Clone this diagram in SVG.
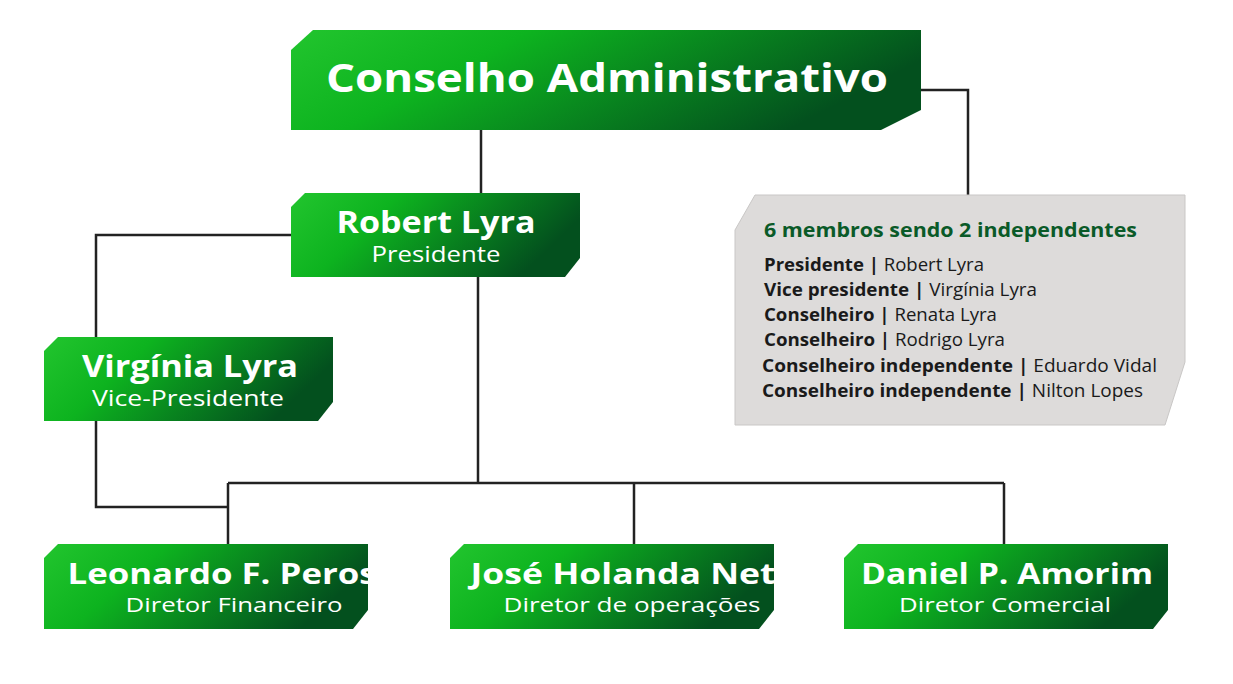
<svg xmlns="http://www.w3.org/2000/svg" width="1233" height="684" viewBox="0 0 1233 684">
<defs>
<linearGradient id="g" x1="0" y1="0" x2="1" y2="0.3">
<stop offset="0" stop-color="#22c52e"/><stop offset="0.35" stop-color="#0db31f"/><stop offset="1" stop-color="#03501e"/>
</linearGradient>
<style>
.c{fill:none;stroke:#222;stroke-width:2.5}
.t{font-family:"Open Sans","Liberation Sans",sans-serif;fill:#fff;text-anchor:middle}
.b{font-weight:bold}
.g{font-family:"Open Sans","Liberation Sans",sans-serif;fill:#1a1a1a;font-size:18px}
</style>
</defs>
<rect width="1233" height="684" fill="#fff"/>
<g id="connectors">
<path class="c" d="M481 130V193M921 90H968V195M291 235H96V337M96 421V507H228M478 277V483M228 483H1004M228 483V544M634 483V544M1004 483V544"/>
</g>
<g id="conselho">
<path d="M313 30H921V110L881 130H291V50Z" fill="url(#g)"/>
<text class="t b" x="607" y="92" font-size="40" textLength="562" lengthAdjust="spacingAndGlyphs">Conselho Administrativo</text>
</g>
<g id="robert">
<path d="M305 193H580V258L565 277H291V207Z" fill="url(#g)"/>
<text class="t b" x="436" y="233" font-size="30" textLength="199" lengthAdjust="spacingAndGlyphs">Robert Lyra</text>
<text class="t" x="436" y="262" font-size="21" textLength="129" lengthAdjust="spacingAndGlyphs">Presidente</text>
</g>
<g id="virginia">
<path d="M58 337H333V402L318 421H44V351Z" fill="url(#g)"/>
<text class="t b" x="190" y="377" font-size="30" textLength="216" lengthAdjust="spacingAndGlyphs">Virgínia Lyra</text>
<text class="t" x="188" y="406" font-size="21" textLength="192" lengthAdjust="spacingAndGlyphs">Vice-Presidente</text>
</g>
<g id="info">
<path d="M755 195H1185V362L1165 425H735V230Z" fill="#dddbda" stroke="#c9c7c6"/>
<text x="764" y="237" font-family="Open Sans,Liberation Sans,sans-serif" font-size="19" font-weight="bold" fill="#0a5a28" textLength="373" lengthAdjust="spacingAndGlyphs">6 membros sendo 2 independentes</text>
<text class="g" x="764" y="271" textLength="220" lengthAdjust="spacingAndGlyphs"><tspan class="b">Presidente |</tspan> Robert Lyra</text>
<text class="g" x="764" y="296" textLength="273" lengthAdjust="spacingAndGlyphs"><tspan class="b">Vice presidente |</tspan> Virgínia Lyra</text>
<text class="g" x="764" y="321" textLength="233" lengthAdjust="spacingAndGlyphs"><tspan class="b">Conselheiro |</tspan> Renata Lyra</text>
<text class="g" x="764" y="346" textLength="241" lengthAdjust="spacingAndGlyphs"><tspan class="b">Conselheiro |</tspan> Rodrigo Lyra</text>
<text class="g" x="762" y="372" textLength="395" lengthAdjust="spacingAndGlyphs"><tspan class="b">Conselheiro independente |</tspan> Eduardo Vidal</text>
<text class="g" x="762" y="397" textLength="381" lengthAdjust="spacingAndGlyphs"><tspan class="b">Conselheiro independente |</tspan> Nilton Lopes</text>
</g>
<g id="leonardo">
<path d="M58 544H368V610L353 629H44V558Z" fill="url(#g)"/>
<text class="t b" x="236" y="584" font-size="29" textLength="337" lengthAdjust="spacingAndGlyphs">Leonardo F. Perossi</text>
<text class="t" x="234" y="612" font-size="20" textLength="217" lengthAdjust="spacingAndGlyphs">Diretor Financeiro</text>
</g>
<g id="jose">
<path d="M464 544H774V610L759 629H450V558Z" fill="url(#g)"/>
<text class="t b" x="634" y="584" font-size="29" textLength="327" lengthAdjust="spacingAndGlyphs">José Holanda Neto</text>
<text class="t" x="632" y="612" font-size="20" textLength="257" lengthAdjust="spacingAndGlyphs">Diretor de operações</text>
</g>
<g id="daniel">
<path d="M858 544H1168V610L1153 629H844V558Z" fill="url(#g)"/>
<text class="t b" x="1007" y="584" font-size="29" textLength="292" lengthAdjust="spacingAndGlyphs">Daniel P. Amorim</text>
<text class="t" x="1005" y="612" font-size="20" textLength="212" lengthAdjust="spacingAndGlyphs">Diretor Comercial</text>
</g>
</svg>
